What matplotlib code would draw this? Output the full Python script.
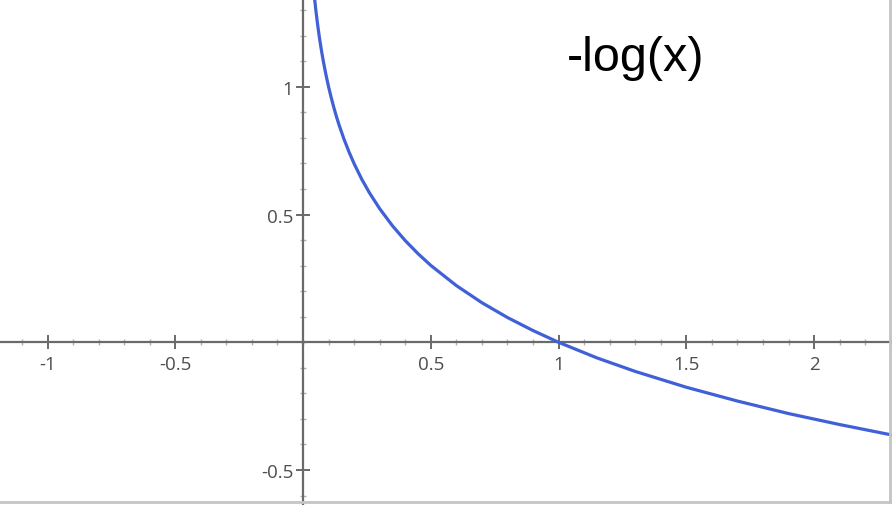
"""
Plot of the curve -log(x) with axes crossing at the origin.
"""

import matplotlib
matplotlib.use("Agg")

import matplotlib.pyplot as plt
from matplotlib.lines import Line2D
from matplotlib.ticker import FixedLocator, MultipleLocator

# ---------------------------------------------------------------------------
# Data
# ---------------------------------------------------------------------------
curve_x = [0.040, 0.045, 0.050, 0.055, 0.060, 0.065, 0.070, 0.075, 0.080,
           0.090, 0.100, 0.110, 0.120, 0.130, 0.140, 0.160, 0.180, 0.200,
           0.230, 0.260, 0.300, 0.350, 0.400, 0.450, 0.500, 0.600, 0.700,
           0.800, 0.900, 1.000, 1.150, 1.300, 1.500, 1.700, 1.900, 2.100,
           2.310]
curve_y = [1.398, 1.347, 1.301, 1.260, 1.222, 1.187, 1.155, 1.125, 1.097,
           1.046, 1.000, 0.959, 0.921, 0.886, 0.854, 0.796, 0.745, 0.699,
           0.638, 0.585, 0.523, 0.456, 0.398, 0.347, 0.301, 0.222, 0.155,
           0.097, 0.046, 0.000, -0.061, -0.114, -0.176, -0.230, -0.279,
           -0.322, -0.364]

x_ticks = [-1, -0.5, 0.5, 1, 1.5, 2]
x_tick_labels = ["-1", "-0.5", "0.5", "1", "1.5", "2"]
y_ticks = [-0.5, 0.5, 1]
y_tick_labels = ["-0.5", "0.5", "1"]

title_text = "-log(x)"

# ---------------------------------------------------------------------------
# Figure
# ---------------------------------------------------------------------------
fig = plt.figure(figsize=(8.92, 5.06), dpi=100)
ax = fig.add_axes([0, 0, 1, 1])
ax.set_facecolor("white")

ax.plot(curve_x, curve_y, color="#3f60d6", linewidth=2.3,
        solid_capstyle="round", solid_joinstyle="round", zorder=3)

ax.set_xlim(-1.186, 2.305)
ax.set_ylim(-0.637, 1.344)

# axes through the origin
for side in ("top", "right"):
    ax.spines[side].set_visible(False)
for side in ("left", "bottom"):
    ax.spines[side].set_position("zero")
    ax.spines[side].set_color("#6a6a6a")
    ax.spines[side].set_linewidth(1.6)

ax.xaxis.set_major_locator(FixedLocator(x_ticks))
ax.set_xticklabels(x_tick_labels)
ax.yaxis.set_major_locator(FixedLocator(y_ticks))
ax.set_yticklabels(y_tick_labels)
ax.xaxis.set_minor_locator(MultipleLocator(0.1))
ax.yaxis.set_minor_locator(MultipleLocator(0.1))

ax.tick_params(which="major", direction="inout", length=10, width=1.4,
               color="#6a6a6a", labelsize=13.5, labelcolor="#4d4d4d")
ax.tick_params(which="minor", direction="inout", length=5, width=1.0,
               color="#b0b0b0")
ax.tick_params(axis="x", which="major", pad=4)
ax.tick_params(axis="y", which="major", pad=2)
for lab in ax.get_xticklabels() + ax.get_yticklabels():
    lab.set_family(["Open Sans", "DejaVu Sans"])

ax.text(0.713, 0.885, title_text, transform=fig.transFigure,
        ha="center", va="center", fontsize=35, color="black",
        family=["Liberation Sans", "DejaVu Sans"])

# light frame on the bottom and right edges of the picture
fig.add_artist(Line2D([0, 0.998], [0.006, 0.006], transform=fig.transFigure,
                      color="#c4c4c4", linewidth=2))
fig.add_artist(Line2D([0.998, 0.998], [0.006, 1], transform=fig.transFigure,
                      color="#c4c4c4", linewidth=2))

fig.savefig("out.png", dpi=100, facecolor="white")
